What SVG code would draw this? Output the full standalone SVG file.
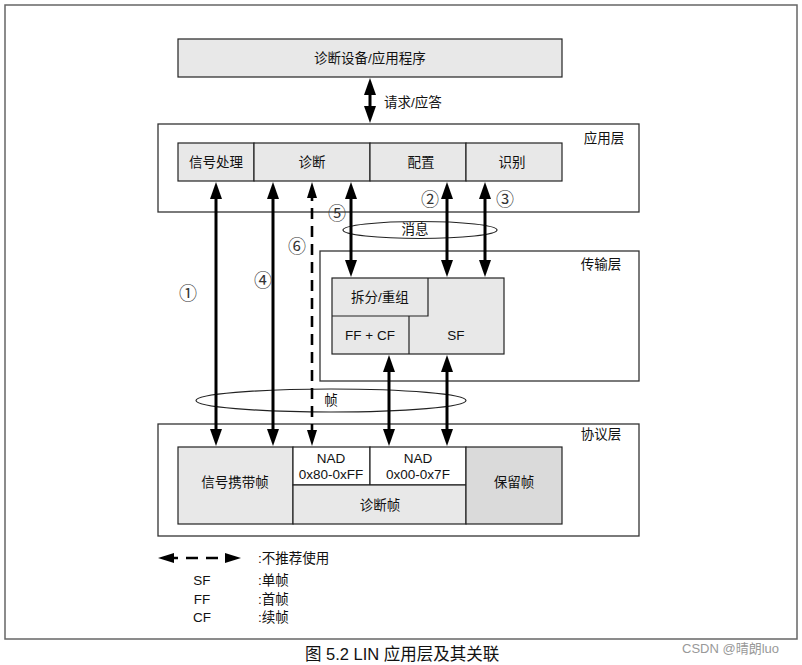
<svg xmlns="http://www.w3.org/2000/svg" width="802" height="665" viewBox="0 0 802 665">
<defs>
<style>
text{font-family:"Liberation Sans","Noto Sans CJK SC",Arial,sans-serif;font-size:13.5px;fill:#111;}
.c{text-anchor:middle;dominant-baseline:central;}
.l{dominant-baseline:central;}
.box{fill:#e8e8e8;stroke:#222;stroke-width:1.2;}
.wbox{fill:#fff;stroke:#222;stroke-width:1.2;}
.layer{fill:#fff;stroke:#333;stroke-width:1.3;}
.ell{fill:none;stroke:#222;stroke-width:1.2;}
.arr{stroke:#000;stroke-width:3;fill:none;marker-start:url(#ah);marker-end:url(#ah);}
.dash{stroke:#000;stroke-width:2.6;fill:none;stroke-dasharray:11,7;marker-start:url(#dh);marker-end:url(#dh);}
.num{font-family:"DejaVu Serif","Liberation Serif","Noto Sans CJK SC",serif;font-size:18px;fill:#333;}
</style>
<marker id="ah" viewBox="0 0 17 12" refX="9" refY="6" markerWidth="17" markerHeight="12" markerUnits="userSpaceOnUse" orient="auto-start-reverse">
<path d="M0,0 L17,6 L0,12 Z" fill="#000"/>
</marker>
<marker id="dh" viewBox="0 0 16 10" refX="8" refY="5" markerWidth="16" markerHeight="10" markerUnits="userSpaceOnUse" orient="auto-start-reverse">
<path d="M0,0 L16,5 L0,10 Z" fill="#000"/>
</marker>
</defs>
<rect width="802" height="665" fill="#fff"/>
<rect x="5" y="5" width="792" height="634" fill="none" stroke="#666" stroke-width="1.5"/>

<g id="app-program">
<rect class="box" x="178" y="39" width="384" height="38"/>
<text class="c" x="370" y="58">诊断设备/应用程序</text>
</g>

<g id="app-layer">
<rect class="layer" x="158" y="124" width="481" height="88"/>
<text class="c" x="604" y="138">应用层</text>
<rect class="box" x="178" y="143" width="76" height="38"/>
<text class="c" x="216" y="162">信号处理</text>
<rect class="box" x="254" y="143" width="116" height="38"/>
<text class="c" x="312" y="162">诊断</text>
<rect class="box" x="370" y="143" width="96" height="38"/>
<text class="c" x="421" y="162">配置</text>
<rect class="box" x="466" y="143" width="96" height="38"/>
<text class="c" x="512" y="162">识别</text>
</g>

<g id="transport-layer">
<rect class="layer" x="320" y="251" width="319" height="130"/>
<text class="c" x="601" y="264">传输层</text>
<rect class="box" x="332" y="278" width="172" height="76"/>
<path d="M332,316 H428 V278 M409,316 V354" fill="none" stroke="#222" stroke-width="1.2"/>
<text class="c" x="380" y="297">拆分/重组</text>
<text class="c" x="370" y="335">FF + CF</text>
<text class="c" x="456" y="335">SF</text>
</g>

<g id="protocol-layer">
<rect class="layer" x="158" y="424" width="481" height="112"/>
<text class="c" x="601" y="434">协议层</text>
<rect class="box" x="178" y="447" width="115" height="77"/>
<text class="c" x="235" y="482">信号携带帧</text>
<rect class="wbox" x="293" y="447" width="77" height="38"/>
<text class="c" x="331" y="458">NAD</text>
<text class="c" x="331" y="474">0x80-0xFF</text>
<rect class="wbox" x="370" y="447" width="96" height="38"/>
<text class="c" x="418" y="458">NAD</text>
<text class="c" x="418" y="474">0x00-0x7F</text>
<rect class="box" x="293" y="485" width="173" height="39"/>
<text class="c" x="380" y="505">诊断帧</text>
<rect x="466" y="447" width="96" height="77" fill="#dadada" stroke="#222" stroke-width="1.2"/>
<text class="c" x="514" y="482">保留帧</text>
</g>

<g id="ellipse-msg">
<ellipse class="ell" cx="420" cy="230" rx="77" ry="8.5"/>
</g>
<g id="ellipse-frame">
<ellipse class="ell" cx="331" cy="400.5" rx="135" ry="11.5"/>
</g>

<g id="connectors">
<line class="arr" x1="370" y1="86" x2="370" y2="115"/>
<line class="arr" x1="216" y1="190" x2="216" y2="438"/>
<line class="arr" x1="273" y1="190" x2="273" y2="438"/>
<line class="dash" x1="312" y1="190" x2="312" y2="438"/>
<line class="arr" x1="351" y1="190" x2="351" y2="269"/>
<line class="arr" x1="447" y1="190" x2="447" y2="269"/>
<line class="arr" x1="485" y1="190" x2="485" y2="269"/>
<line class="arr" x1="389" y1="363" x2="389" y2="438"/>
<line class="arr" x1="447" y1="363" x2="447" y2="438"/>
</g>

<g id="labels">
<text class="l" x="384" y="102">请求/应答</text>
<text class="c" x="415" y="229">消息</text>
<text class="c" x="331" y="400">帧</text>
<text class="num c" x="188" y="293">①</text>
<text class="num c" x="430" y="199">②</text>
<text class="num c" x="505" y="199">③</text>
<text class="num c" x="263" y="280">④</text>
<text class="num c" x="337" y="213">⑤</text>
<text class="num c" x="297" y="246">⑥</text>
</g>

<g id="legend">
<line class="dash" x1="166" y1="558" x2="233" y2="558" style="stroke-width:2.6;stroke-dasharray:12,8"/>
<text class="l" x="258" y="558">:不推荐使用</text>
<text class="c" x="202" y="580">SF</text>
<text class="l" x="258" y="580">:单帧</text>
<text class="c" x="202" y="599">FF</text>
<text class="l" x="258" y="599">:首帧</text>
<text class="c" x="202" y="617">CF</text>
<text class="l" x="258" y="617">:续帧</text>
</g>

<text x="305" y="660" style="font-size:16.5px">图 5.2 LIN 应用层及其关联</text>
<text x="682" y="653" style="font-size:13px;fill:#999">CSDN @晴朗luo</text>
</svg>
